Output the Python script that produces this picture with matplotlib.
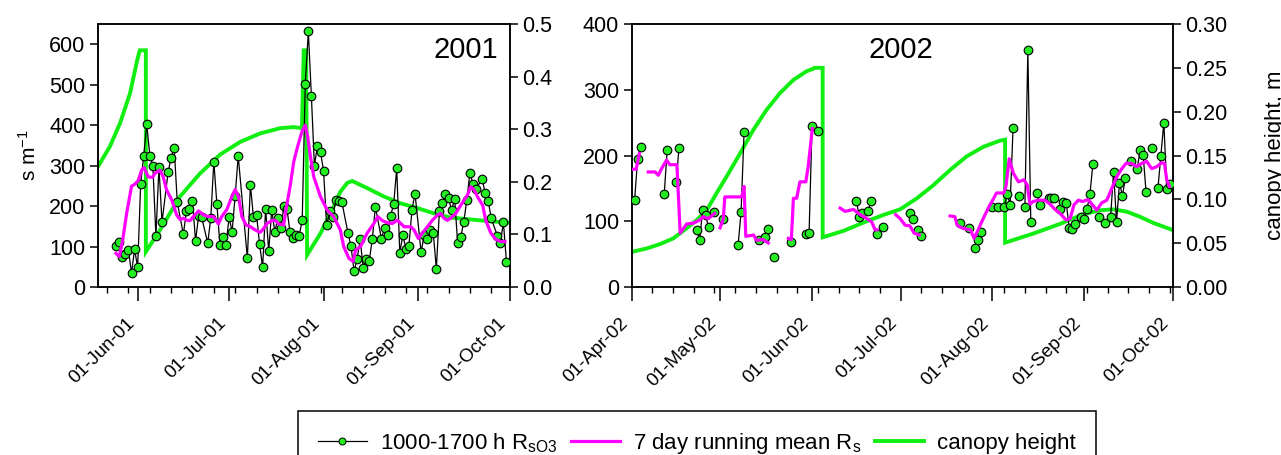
import numpy as np
import pandas as pd
import matplotlib
matplotlib.use("Agg")
import matplotlib.pyplot as plt
import matplotlib.dates as mdates
from matplotlib.lines import Line2D
from matplotlib.ticker import FixedLocator, FormatStrFormatter

plt.rcParams["font.family"] = ["Liberation Sans", "DejaVu Sans"]
plt.rcParams["mathtext.default"] = "regular"

nan = np.nan

# ---------------- 2001, days counted from 01-Jun-01 ----------------
obs01_day = [-7, -6, -5, -4, -3, -2, -1, 0, 1, 2, 3, 4, 5, 6, 7, 8, 10, 11, 12, 13,
             15, 16, 17, 18, 19, 20, 21, 23, 24, 25, 26, 27, 28, 29, 30, 31, 32, 33, 36, 37,
             38, 39, 40, 41, 42, 43, 44, 45, 46, 47, 48, 49, 50, 51, 52, 53, 54, 55, 56, 57,
             58, 59, 60, 61, 62, 63, 64, 65, 66, 67, 69, 70, 71, 72, 73, 74, 75, 76, 77, 78,
             80, 81, 82, 83, 84, 85, 86, 87, 88, 89, 90, 91, 93, 94, 95, 96, 97, 98, 99, 100,
             101, 102, 103, 104, 105, 106, 107, 108, 109, 110, 111, 113, 114, 115, 116, 118, 119, 120, 121]
obs01_rs = [102, 110, 73, 81, 91, 34, 93, 49, 254, 325, 402, 325, 299, 126, 297, 160, 284, 320, 344, 210,
            130, 187, 192, 212, 114, 175, 172, 109, 170, 310, 205, 104, 124, 104, 172, 137, 226, 324, 71, 253,
            172, 179, 106, 49, 193, 89, 190, 137, 170, 146, 201, 193, 135, 121, 129, 127, 165, 501, 632, 472,
            300, 349, 333, 287, 152, 188, 172, 216, 212, 210, 134, 101, 40, 68, 118, 48, 69, 65, 119, 198,
            119, 146, 128, 176, 205, 293, 85, 128, 95, 102, 190, 231, 86, 128, 119, 141, 133, 45, 188, 207,
            230, 219, 190, 218, 108, 123, 161, 215, 282, 255, 242, 267, 233, 213, 170, 127, 108, 160, 62]

mean01_day = [-7.1, -6.0, -4.9, -3.6, -2.0, -0.9, 0.2, 1.3, 2.1, 3.5,
              4.9, 5.7, 7.3, 8.4, 9.5, 11.2, 12.8, 13.9, 15.0, 16.1,
              17.2, 18.3, 20.0, 21.6, 23.2, 24.9, 26.5, 27.6, 29.3, 30.9,
              32.0, 33.1, 34.2, 35.6, 37.0, 38.6, 40.2, 41.3, 42.4, 44.1,
              45.2, 46.3, 47.9, 48.8, 50.1, 51.2, 52.3, 53.9, 55.0, 55.8,
              56.7, 57.8, 58.7, 60.0, 62.2, 64.3, 66.5, 67.6, 69.3, 70.7,
              71.5, 73.1, 75.3, 77.5, 78.8, 80.3, 81.9, 83.6, 85.2, 87.4,
              89.6, 90.7, 92.1, 93.4, 95.1, 96.7, 98.4, 99.4, 100.5, 101.6,
              102.7, 104.4, 106.0, 108.2, 109.3, 110.4, 111.5, 113.2, 114.2, 115.9,
              117.5, 119.2, 120.5]
mean01_rs = [83, 75, 116, 182, 249, 254, 263, 289, 295, 272,
             271, 281, 289, 272, 240, 215, 178, 167, 170, 165,
             164, 174, 188, 178, 174, 174, 156, 174, 192, 223,
             241, 223, 174, 153, 149, 141, 135, 144, 157, 164,
             165, 156, 153, 197, 252, 309, 342, 384, 400, 371,
             322, 272, 252, 223, 190, 174, 141, 100, 71, 63,
             91, 100, 133, 157, 174, 164, 159, 157, 165, 149,
             149, 141, 120, 133, 149, 165, 178, 182, 170, 165,
             170, 182, 202, 227, 248, 240, 223, 202, 165, 133,
             118, 112, 112]

can01_day = [-13, -9.1, -5.8, -2.5, -0.1, 0.7, 2.7, 2.7, 7.3, 13.9,
             20.5, 27.1, 33.7, 40.2, 46.8, 51.2, 53.9, 54.5, 55.3, 55.6,
             60.0, 64.3, 66.5, 68.8, 70.4, 75.3, 80.8, 86.3, 91.8, 97.2,
             102.7, 108.2, 113.7, 122.2]
can01_h = [0.229, 0.267, 0.311, 0.368, 0.432, 0.45, 0.45, 0.067, 0.108, 0.172,
           0.216, 0.252, 0.276, 0.292, 0.302, 0.304, 0.302, 0.45, 0.45, 0.061,
           0.102, 0.153, 0.181, 0.198, 0.2015, 0.188, 0.172, 0.159, 0.150, 0.140,
           0.132, 0.129, 0.126, 0.122]

# ---------------- 2002, days counted from 01-Apr-02 ----------------
obs02_day = [1, 2, 3, 11, 12, 15, 16, 22, 23, 24, 25, 26, 28, 31, 36, 37, 38, 43, 45, 46,
             48, 54, 59, 60, 61, 63, 76, 77, 78, 80, 81, 83, 85, 94, 95, 97, 98, 111, 114, 116,
             117, 118, 122, 124, 126, 127, 128, 129, 131, 133, 134, 135, 137, 138, 141, 142, 143, 145, 146, 147,
             148, 149, 150, 152, 153, 154, 155, 156, 158, 160, 162, 163, 164, 165, 166, 167, 169, 171, 172, 173,
             174, 176, 178, 179, 180, 181, 182]
obs02_rs = [133, 195, 213, 141, 209, 159, 211, 87, 72, 117, 109, 91, 114, 104, 64, 114, 235, 71, 76, 88,
            46, 69, 81, 82, 245, 238, 131, 107, 113, 116, 131, 81, 92, 113, 104, 86, 77, 98, 89, 60,
            72, 84, 121, 121, 121, 142, 125, 242, 139, 122, 360, 99, 143, 125, 136, 136, 136, 118, 129, 128,
            89, 88, 96, 106, 103, 118, 141, 187, 106, 98, 107, 175, 99, 158, 139, 166, 192, 180, 209, 201,
            144, 212, 150, 200, 250, 149, 157]

mean02_day = [0.0, 1.5, 2.6, nan,
              5.6, 7.9, 9.0, 10.1, 11.8, 12.9, 15.3, 16.4, 18.6, 20.8, 23.1, 24.2, 25.9, 28.1, nan,
              29.9, 31.0, 31.5, 37.2, 38.0, 38.6, 41.2, 42.3, 44.5, 46.2, nan,
              53.0, 54.0, 54.7, 55.8, 56.9, 58.9, 59.7, 61.1, nan,
              70.5, 72.2, 75.0, 76.7, 79.5, 81.2, 82.3, 83.0, nan,
              89.3, 90.8, 92.5, 94.1, 95.5, 97.3, nan,
              107.7, 109.3, 110.1, 112.1, 114.6, 115.8, 117.2, 118.9, 120.6, 122.1,
              123.4, 125.9, 126.6, 127.7, 129.1, 130.8, 132.7, 133.8, 134.7, 135.8,
              137.5, 139.8, 141.5, 143.2, 144.9, 146.9, 148.3, 149.6, 151.1, 152.5,
              154.4, 157.3, 159.0, 160.7, 162.4, 164.1, 165.8, 167.2, 169.1, 170.8,
              172.5, 174.2, 175.9, 177.6, 179.3, 180.2, 181.0, 181.9]
mean02_rs = [179, 179, 203, nan,
             175, 175, 170, 180, 193, 186, 186, 82, 96, 97, 102, 107, 104, 112, nan,
             90, 104, 137, 137, 153, 77, 79, 71, 72, 67, nan,
             74, 72, 135, 135, 160, 160, 183, 241, nan,
             120, 115, 118, 112, 104, 99, 87, 87, nan,
             110, 104, 94, 93, 82, 79, nan,
             108, 107, 94, 89, 87, 74, 87, 104, 120, 132,
             143, 143, 153, 195, 173, 160, 163, 155, 126, 130,
             132, 132, 126, 118, 112, 102, 104, 125, 132, 130,
             133, 117, 128, 132, 150, 168, 180, 188, 188, 183,
             188, 191, 180, 183, 189, 188, 163, 153]

can02_day = [0, 5.1, 9.6, 14.1, 18.6, 22.0, 25.4, 28.7, 32.1, 36.6,
             41.1, 45.6, 50.1, 54.6, 59.1, 61.4, 61.8, 64.6, 64.6, 71.6,
             79.5, 85.0, 90.8, 96.4, 102.0, 107.7, 113.3, 119.0, 124.6, 126.3,
             126.3, 135.9, 144.9, 152.8, 158.4, 162.9, 167.4, 172.0, 176.5, 183]
can02_h = [0.040, 0.044, 0.049, 0.0555, 0.067, 0.0764, 0.0878, 0.107, 0.126, 0.152,
           0.179, 0.202, 0.221, 0.236, 0.246, 0.249, 0.250, 0.250, 0.0567, 0.064,
           0.075, 0.082, 0.0886, 0.101, 0.116, 0.1335, 0.149, 0.160, 0.167, 0.168,
           0.0506, 0.061, 0.072, 0.083, 0.0875, 0.0886, 0.086, 0.080, 0.073, 0.065]

GREEN = "#11ee11"
MAGENTA = "#ff00ff"
MARK = "#22ee22"


def to_num(start, days):
    return mdates.date2num(pd.Timestamp(start)) + np.asarray(days, dtype=float)


def panel(rect, start, xmin, xmax, majors, minor_from, obs_x, obs_y, mean_x, mean_y,
          can_x, can_y, ylim, yticks, y2lim, y2ticks, y2fmt):
    ax = fig.add_axes(rect)
    ax2 = ax.twinx()
    # canopy height behind the resistances
    ax.set_zorder(2)
    ax2.set_zorder(1)
    ax.patch.set_visible(False)

    ax2.plot(to_num(start, can_x), can_y, color=GREEN, lw=2.8, solid_joinstyle="miter")
    ax.plot(obs_x, obs_y, color="black", lw=0.9, marker="o", ms=6.2,
            mfc=MARK, mec="black", mew=0.8, zorder=3)
    ax.plot(to_num(start, mean_x), mean_y, color=MAGENTA, lw=2.3, zorder=4)

    ax.set_xlim(to_num(start, xmin), to_num(start, xmax))
    ax.set_ylim(*ylim)
    ax.set_yticks(yticks)
    ax2.set_ylim(*y2lim)
    ax2.set_yticks(y2ticks)
    ax2.yaxis.set_major_formatter(FormatStrFormatter(y2fmt))

    ax.xaxis.set_major_locator(FixedLocator(mdates.date2num(pd.to_datetime(majors))))
    ax.xaxis.set_minor_locator(FixedLocator(
        mdates.date2num(pd.date_range(minor_from, majors[-1], freq="7D"))))
    ax.xaxis.set_major_formatter(mdates.DateFormatter("%d-%b-%y"))

    ax.tick_params(axis="x", which="major", direction="out", length=10, width=1.1,
                   labelsize=13.5, pad=10)
    ax.tick_params(axis="x", which="minor", direction="out", length=4.5, width=1.0)
    ax.tick_params(axis="y", direction="out", length=6, width=1.1, labelsize=15.5, pad=3)
    ax2.tick_params(axis="y", direction="out", length=6, width=1.1, labelsize=15.5, pad=3)
    for lab in ax.get_xticklabels():
        lab.set_rotation(45)
        lab.set_ha("right")
        lab.set_va("top")
    for a in (ax, ax2):
        for s in a.spines.values():
            s.set_linewidth(1.1)
    return ax, ax2


fig = plt.figure(figsize=(12.81, 4.55), dpi=100)
bottom = 1 - 287 / 455
height = 263 / 455

# 2001 panel
x01 = to_num("2001-06-01", obs01_day)
axA, axA2 = panel([98 / 1281, bottom, 411.5 / 1281, height], "2001-06-01", -13, 122,
                  ["2001-06-01", "2001-07-01", "2001-08-01", "2001-09-01", "2001-10-01"],
                  "2001-05-22", x01, obs01_rs, mean01_day, mean01_rs, can01_day, can01_h,
                  (0, 650), np.arange(0, 601, 100), (0, 0.5), np.arange(0, 0.51, 0.1), "%.1f")
axA.text(0.972, 0.955, "2001", transform=axA.transAxes, ha="right", va="top", fontsize=21)

# 2002 panel, days without data break the line
s02 = pd.Series(obs02_rs, index=obs02_day, dtype=float).reindex(range(0, 184))
x02 = to_num("2002-04-01", s02.index.values)
axB, axB2 = panel([631.7 / 1281, bottom, 541 / 1281, height], "2002-04-01", 0, 183,
                  ["2002-04-01", "2002-05-01", "2002-06-01", "2002-07-01", "2002-08-01",
                   "2002-09-01", "2002-10-01"],
                  "2002-04-01", x02, s02.values, mean02_day, mean02_rs, can02_day, can02_h,
                  (0, 400), np.arange(0, 401, 100), (0, 0.3), np.arange(0, 0.301, 0.05), "%.2f")
axB.text(0.498, 0.955, "2002", transform=axB.transAxes, ha="center", va="top", fontsize=21)

fig.text(29 / 1281, 1 - 155 / 455, "s m$^{-1}$", rotation=90, ha="center", va="center",
         fontsize=15)
fig.text(1276 / 1281, 1 - 155 / 455, "canopy height, m", rotation=90, ha="center",
         va="center", fontsize=16)

handles = [
    Line2D([], [], color="black", lw=0.9, marker="o", ms=5, mfc=MARK, mec="black", mew=0.7),
    Line2D([], [], color=MAGENTA, lw=2.3),
    Line2D([], [], color=GREEN, lw=2.8),
]
labels = ["1000-1700 h R$_{sO3}$", "7 day running mean R$_s$", "canopy height"]
leg = fig.legend(handles, labels, loc="upper left", bbox_to_anchor=(298 / 1281, 1 - 411 / 455),
                 ncol=3, fontsize=16, frameon=True, fancybox=False, edgecolor="black",
                 framealpha=1, handlelength=2.2, handletextpad=0.6, columnspacing=0.6,
                 borderpad=0.9, borderaxespad=0)
leg.get_frame().set_linewidth(1.1)

fig.savefig("out.png", dpi=100)
